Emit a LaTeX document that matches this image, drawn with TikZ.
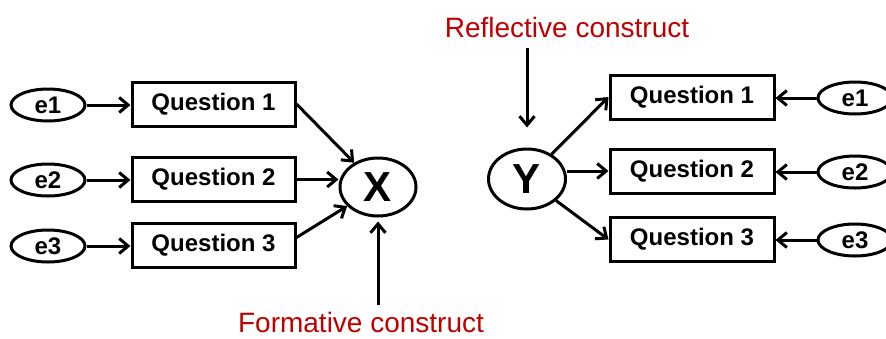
\documentclass[tikz,border=0pt]{standalone}
\usepackage{fontspec}
\setmainfont{Liberation Sans}
\usetikzlibrary{arrows.meta,calc,shapes.geometric}
\definecolor{labelred}{HTML}{C00000}
\begin{document}
\begin{tikzpicture}[x=1pt,y=-1pt,
  item/.style={draw,line width=3pt,rectangle,minimum width=163pt,minimum height=44pt,
    inner sep=0pt,font=\fontsize{24}{28}\selectfont\bfseries},
  err/.style={draw,line width=3pt,ellipse,minimum width=74pt,minimum height=32pt,
    inner sep=0pt,font=\fontsize{24}{28}\selectfont\bfseries},
  latent/.style={draw,line width=3pt,ellipse,minimum width=76pt,minimum height=58pt,
    inner sep=0pt,font=\fontsize{42}{46}\selectfont\bfseries},
  link/.style={line width=3pt,-{Straight Barb[length=9pt,width=15pt,line width=3pt]}},
  caption/.style={text=labelred,font=\fontsize{28}{32}\selectfont,inner sep=0pt}]
\useasboundingbox (0,0) rectangle (886,338);

% formative construct (left)
\node[err] (le1) at (48,105) {e1};
\node[err] (le2) at (48,180) {e2};
\node[err] (le3) at (48,246) {e3};
\node[item] (lq1) at (213.5,104) {Question 1};
\node[item] (lq2) at (213.5,179.5) {Question 2};
\node[item] (lq3) at (213.5,245.5) {Question 3};
\node[latent] (X) at (378,187) {X};
\node[caption,anchor=base] (form) at (361,332) {Formative construct};
\coordinate (fbase) at (378,305);

\draw[link] (le1.east) -- (le1.east -| lq1.west);
\draw[link] (le2.east) -- (le2.east -| lq2.west);
\draw[link] (le3.east) -- (le3.east -| lq3.west);
\draw[link] (lq1.east) -- (X);
\draw[link] (lq2.east) -- (lq2.east -| X.west);
\draw[link] ($(lq3.east)+(0,-8)$) -- (X);
\draw[link,shorten >=4pt] (fbase) -- (X.south);

% reflective construct (right)
\node[latent,minimum width=77pt,minimum height=60pt] (Y) at (527,179) {Y};
\node[item,minimum width=164pt] (rq1) at (692,97) {Question 1};
\node[item,minimum width=164pt] (rq2) at (692,171) {Question 2};
\node[item,minimum width=164pt] (rq3) at (692,239.5) {Question 3};
\node[err] (re1) at (855,98) {e1};
\node[err] (re2) at (855,172) {e2};
\node[err] (re3) at (855,240) {e3};
\node[caption,anchor=base] (refl) at (567,37) {Reflective construct};
\coordinate (rtop) at (527,48);

\draw[link] (re1.west) -- (re1.west -| rq1.east);
\draw[link] (re2.west) -- (re2.west -| rq2.east);
\draw[link] (re3.west) -- (re3.west -| rq3.east);
\draw[link] (Y) -- (rq1.west);
\draw[link] (Y.east |- rq2.west) -- (rq2.west);
\draw[link] (Y) -- (rq3.west);
\draw[link,shorten >=20pt] (rtop) -- (Y.north);
\end{tikzpicture}
\end{document}
